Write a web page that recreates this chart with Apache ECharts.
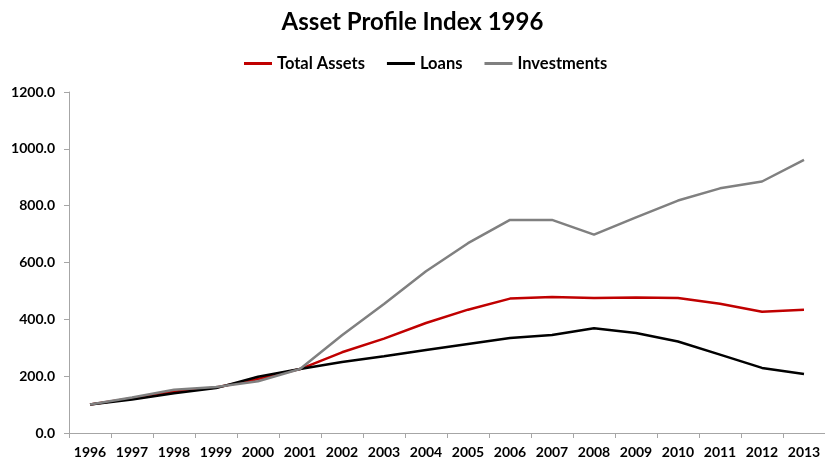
<!DOCTYPE html>
<html><head><meta charset="utf-8">
<script src="https://cdn.jsdelivr.net/npm/echarts@6/dist/echarts.min.js"></script>
<style>html,body{margin:0;padding:0;background:#fff}#c{width:825px;height:463px}</style>
</head><body><div id="c"></div>
<script>
const years = ['1996','1997','1998','1999','2000','2001','2002','2003','2004','2005','2006','2007','2008','2009','2010','2011','2012','2013'];
const totalAssets = [100,122,145,160,190,225,284,332,387,434,473,479,475,477,475,455,427,434];
const loans = [100,118,140,158,198,225,250,270,292,313,334,345,369,352,322,276,229,208];
const investments = [100,125,152,162,182,225,344,454,569,668,750,750,698,759,818,861,885,961];

const font = 'Lato, "Open Sans", sans-serif';
const chart = echarts.init(document.getElementById('c'));
chart.setOption({
  animation:false,
  backgroundColor:'#fff',
  title:{text:'Asset Profile Index 1996',left:'center',top:5,textStyle:{fontFamily:font,fontWeight:'bold',fontSize:24,color:'#000'}},
  legend:{top:50,left:239,itemGap:22,itemWidth:28,itemHeight:3,icon:'rect',textStyle:{fontFamily:font,fontWeight:'bold',fontSize:16.5,color:'#000'},
    data:['Total Assets','Loans','Investments']},
  grid:{left:69,right:-4,top:92,bottom:30,containLabel:false},
  xAxis:{type:'category',data:years,boundaryGap:true,
    axisLine:{lineStyle:{color:'#a6a6a6',width:1}},
    axisTick:{show:true,length:5,interval:0,lineStyle:{color:'#a6a6a6'}},
    axisLabel:{interval:0,hideOverlap:false,fontFamily:font,fontWeight:'bold',fontSize:14,color:'#000',margin:12}},
  yAxis:{type:'value',min:0,max:1200,interval:200,
    axisLine:{show:true,lineStyle:{color:'#a6a6a6'}},
    axisTick:{show:true,length:5,lineStyle:{color:'#a6a6a6'}},
    splitLine:{show:false},
    axisLabel:{fontFamily:font,fontWeight:'bold',fontSize:14,color:'#000',margin:14,formatter:v=>v.toFixed(1)}},
  series:[
    {name:'Total Assets',type:'line',data:totalAssets,symbol:'none',lineStyle:{color:'#c00000',width:2.5},itemStyle:{color:'#c00000'},z:3},
    {name:'Loans',type:'line',data:loans,symbol:'none',lineStyle:{color:'#000000',width:2.5},itemStyle:{color:'#000000'},z:4},
    {name:'Investments',type:'line',data:investments,symbol:'none',lineStyle:{color:'#808080',width:2.5},itemStyle:{color:'#808080'},z:5}
  ]
});
</script></body></html>
